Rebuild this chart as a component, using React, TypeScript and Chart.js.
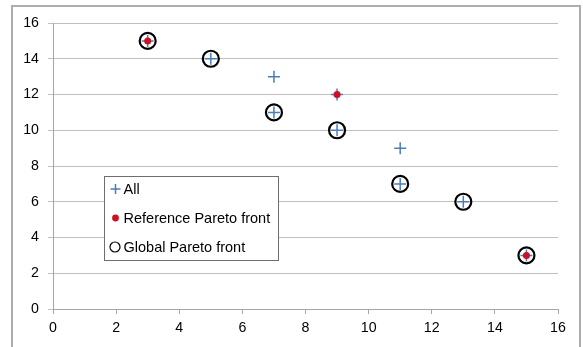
import React, { useEffect, useRef } from "react";
import { Chart, registerables } from "chart.js";

Chart.register(...registerables);

// All evaluated solutions
const allX = [3, 5, 7, 7, 9, 9, 11, 11, 13, 15];
const allY = [15, 14, 13, 11, 12, 10, 9, 7, 6, 3];

// Reference Pareto front
const refX = [3, 9, 15];
const refY = [15, 12, 3];

// Global Pareto front
const globalX = [3, 5, 7, 9, 11, 13, 15];
const globalY = [15, 14, 11, 10, 7, 6, 3];

const xTicks = [0, 2, 4, 6, 8, 10, 12, 14, 16];
const yTicks = [0, 2, 4, 6, 8, 10, 12, 14, 16];

const legendLabels = ["All", "Reference Pareto front", "Global Pareto front"];

const BLUE = "#4a7ebb";
const RED = "#cc1122";
const GRID = "#bfbfbf";
const AXIS = "#a6a6a6";
const FONT = "'Liberation Sans', Arial, sans-serif";

const toPoints = (xs: number[], ys: number[]) => xs.map((x, i) => ({ x, y: ys[i] }));

// Outer frame around the whole chart
const framePlugin = {
  id: "frame",
  afterDraw(chart: any) {
    const { ctx } = chart;
    ctx.save();
    ctx.strokeStyle = "#adadad";
    ctx.lineWidth = 2;
    ctx.strokeRect(12, 6, 568, 400);
    ctx.restore();
  },
};

// Boxed legend placed inside the plot area
const boxLegendPlugin = {
  id: "boxLegend",
  afterDraw(chart: any) {
    const { ctx } = chart;
    ctx.save();
    const bx = 104.5, by = 176.5, bw = 174, bh = 84;
    ctx.fillStyle = "#ffffff";
    ctx.fillRect(bx, by, bw, bh);
    ctx.strokeStyle = "#6e6e6e";
    ctx.lineWidth = 1;
    ctx.strokeRect(bx, by, bw, bh);

    const mx = 115.5;
    const rows = [189, 218, 247];

    // plus marker
    ctx.strokeStyle = BLUE;
    ctx.lineWidth = 1.5;
    ctx.beginPath();
    ctx.moveTo(mx - 5, rows[0]);
    ctx.lineTo(mx + 5, rows[0]);
    ctx.moveTo(mx, rows[0] - 5);
    ctx.lineTo(mx, rows[0] + 5);
    ctx.stroke();

    // red dot
    ctx.fillStyle = RED;
    ctx.beginPath();
    ctx.arc(mx, rows[1], 3.4, 0, Math.PI * 2);
    ctx.fill();

    // open circle
    ctx.strokeStyle = "#000000";
    ctx.lineWidth = 1.2;
    ctx.beginPath();
    ctx.arc(mx - 0.5, rows[2], 5, 0, Math.PI * 2);
    ctx.stroke();

    ctx.fillStyle = "#000000";
    ctx.font = `14.5px ${FONT}`;
    ctx.textBaseline = "middle";
    ctx.textAlign = "left";
    legendLabels.forEach((t, i) => {
      ctx.fillText(t, 123.5, rows[i] + 0.5);
    });
    ctx.restore();
  },
};

export default function App() {
  const canvasRef = useRef<HTMLCanvasElement | null>(null);

  useEffect(() => {
    const canvas = canvasRef.current;
    if (!canvas) return;
    const chart = new Chart(canvas, {
      type: "scatter",
      data: {
        datasets: [
          {
            label: legendLabels[0],
            data: toPoints(allX, allY),
            pointStyle: "cross",
            pointRadius: 6,
            pointHoverRadius: 6,
            pointBorderWidth: 1.5,
            borderColor: BLUE,
            backgroundColor: BLUE,
            order: 1,
          },
          {
            label: legendLabels[1],
            data: toPoints(refX, refY),
            pointStyle: "circle",
            pointRadius: 3.5,
            pointHoverRadius: 3.5,
            pointBorderWidth: 0,
            borderColor: RED,
            backgroundColor: RED,
            order: 0,
          },
          {
            label: legendLabels[2],
            data: toPoints(globalX, globalY),
            pointStyle: "circle",
            pointRadius: 8,
            pointHoverRadius: 8,
            pointBorderWidth: 2.2,
            borderColor: "#000000",
            backgroundColor: "rgba(0,0,0,0)",
            order: 2,
          },
        ],
      },
      options: {
        responsive: false,
        animation: false,
        devicePixelRatio: 1,
        layout: { padding: { left: 0, right: 25, top: 23, bottom: 0 } },
        plugins: {
          legend: { display: false },
          tooltip: { enabled: false },
        },
        scales: {
          x: {
            type: "linear",
            min: xTicks[0],
            max: xTicks[xTicks.length - 1],
            afterBuildTicks: (scale: any) => {
              scale.ticks = xTicks.map((v) => ({ value: v }));
            },
            afterFit: (scale: any) => {
              scale.height = 38;
            },
            grid: {
              drawOnChartArea: false,
              drawTicks: true,
              tickLength: 5,
              color: AXIS,
            },
            border: { color: AXIS, width: 1 },
            ticks: {
              padding: 6,
              color: "#000000",
              font: { family: FONT, size: 14.2 },
              maxRotation: 0,
            },
          },
          y: {
            type: "linear",
            min: yTicks[0],
            max: yTicks[yTicks.length - 1],
            afterBuildTicks: (scale: any) => {
              scale.ticks = yTicks.map((v) => ({ value: v }));
            },
            afterFit: (scale: any) => {
              scale.width = 53;
            },
            grid: {
              drawOnChartArea: true,
              drawTicks: true,
              tickLength: 5,
              color: GRID,
            },
            border: { color: AXIS, width: 1 },
            ticks: {
              padding: 9,
              color: "#000000",
              font: { family: FONT, size: 14.2 },
            },
          },
        },
      },
      plugins: [framePlugin, boxLegendPlugin],
    });
    return () => chart.destroy();
  }, []);

  return (
    <div style={{ position: "fixed", left: 0, top: 0, width: 583, height: 347, background: "#ffffff" }}>
      <canvas ref={canvasRef} width={583} height={347} style={{ display: "block" }} />
    </div>
  );
}
